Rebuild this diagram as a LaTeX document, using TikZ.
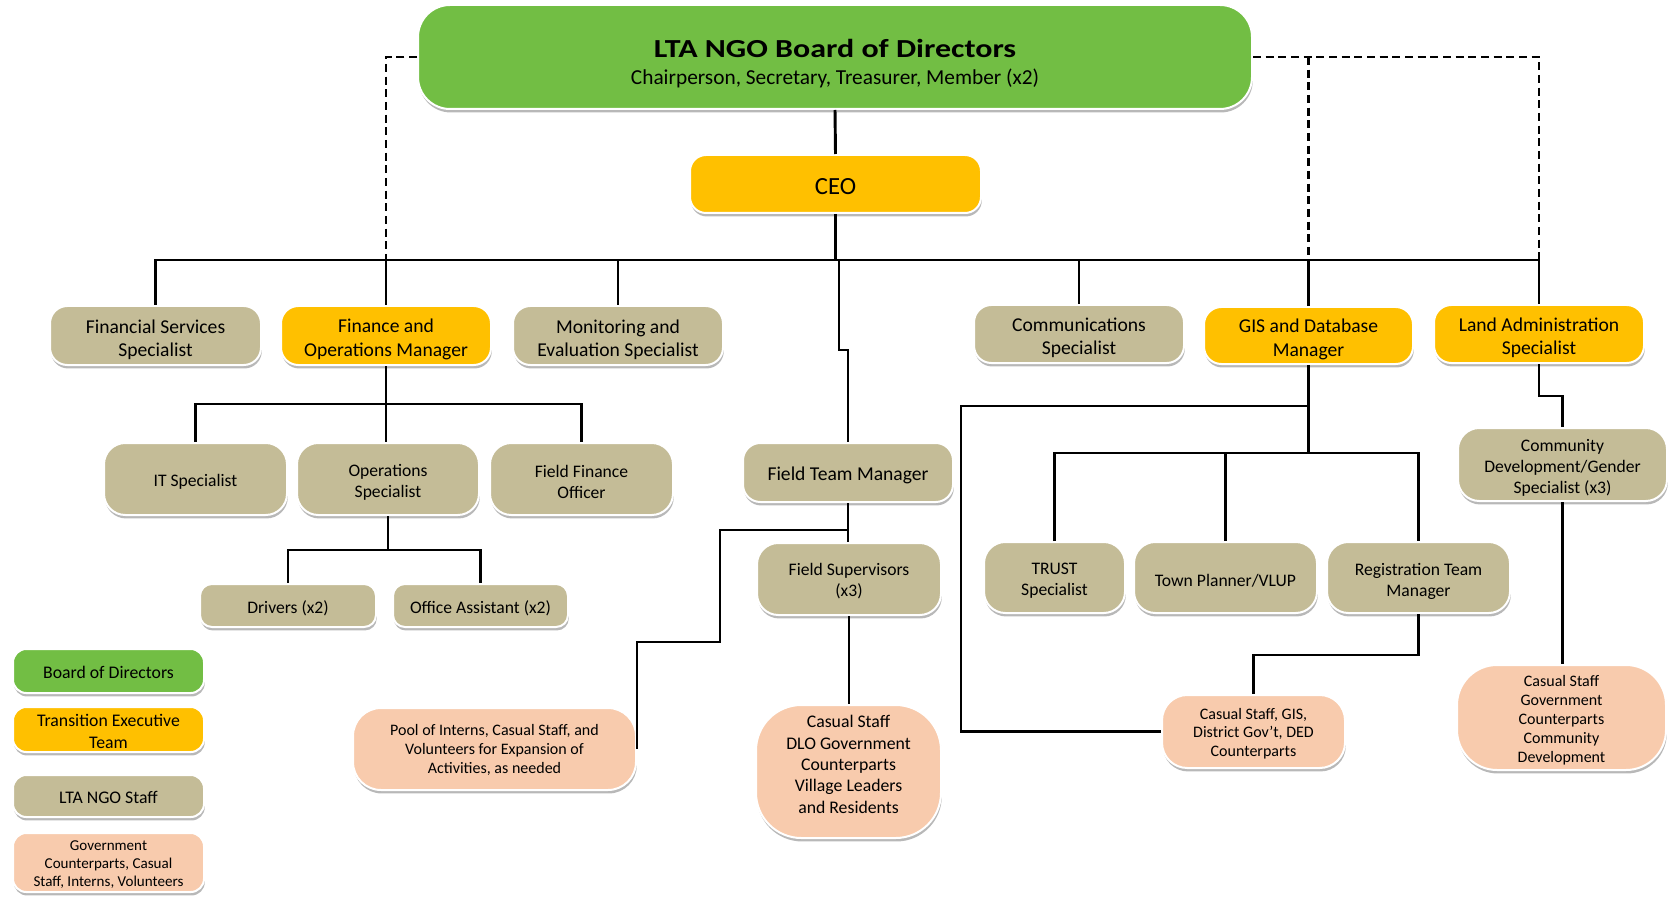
\documentclass[tikz,border=0pt]{standalone}
\usepackage{fontspec}
\setmainfont{Carlito}
\usetikzlibrary{shadows}
\definecolor{cgreen}{RGB}{114,190,68}
\definecolor{cgold}{RGB}{255,192,0}
\definecolor{ctan}{RGB}{196,188,151}
\definecolor{cpeach}{RGB}{248,203,173}
\newcommand\fs[2]{\fontsize{#1}{#2}\selectfont}
% name, x1, y1, x2, y2, shape style, font style, text, text shift (px, down)
\newcommand\bx[9]{%
  \node[#6, minimum width={(#4-#2)*0.75pt}, minimum height={(#5-#3)*0.75pt}] (#1) at ({(#2+#4)/2},{(#3+#5)/2}) {};
  \node[#7, align=center, inner sep=0pt] (#1-t) at ({(#2+#4)/2},{(#3+#5)/2+#9}) {#8};}
\begin{document}
\begin{tikzpicture}[x=0.75pt,y=-0.75pt,
  box/.style={draw=white, line width=1.5pt, inner sep=0pt,
    drop shadow={shadow xshift=0.6pt, shadow yshift=-2.6pt, opacity=0.28, fill=black}},
  grn/.style={box, fill=cgreen},
  gld/.style={box, fill=cgold},
  tan/.style={box, fill=ctan},
  pch/.style={box, fill=cpeach},
  lvA/.style={font=\fs{14.7}{17.5}},
  lvB/.style={font=\fs{13.2}{15.75}},
  conn/.style={line width=2.2pt, black},
  dconn/.style={line width=2pt, black, dash pattern=on 6pt off 3.5pt},
  txt/.style={inner sep=0pt, anchor=base}
]
\useasboundingbox (0,0) rectangle (1669,898);

% Board and CEO
\node[grn, rounded corners=24pt, minimum width={834*0.75pt}, minimum height={104*0.75pt}] (board) at (835,57) {};
\node[txt, font=\fs{19.5}{22}\bfseries] (boardT) at (835,57.3) {\scalebox{1.23}[1]{LTA NGO Board of Directors}};
\node[txt, font=\fs{16}{19}] (boardS) at (835,84.3) {Chairperson, Secretary, Treasurer, Member (x2)};
\bx{ceo}{690}{155}{981}{213}{gld, rounded corners=12pt}{font=\fs{18.5}{22}}{CEO}{3}

% Level 2
\bx{fss}{50}{306}{261}{365}{tan, rounded corners=13pt}{lvA}{Financial Services\\Specialist}{4}
\bx{fom}{281}{306}{491}{365}{gld, rounded corners=13pt}{lvA}{Finance and\\Operations Manager}{4}
\bx{mes}{513}{306}{723}{365}{tan, rounded corners=13pt}{lvA}{Monitoring and\\Evaluation Specialist}{4}
\bx{com}{974}{305}{1184}{363}{tan, rounded corners=13pt}{lvA}{Communications\\Specialist}{4}
\bx{gis}{1204}{307}{1413}{364}{gld, rounded corners=13pt}{lvA}{GIS and Database\\Manager}{4}
\bx{las}{1434}{305}{1644}{363}{gld, rounded corners=13pt}{lvA}{Land Administration\\Specialist}{3.5}

% Finance subtree
\bx{it}{104}{443}{287}{515}{tan, rounded corners=16pt}{lvB}{IT Specialist}{3}
\bx{ops}{297}{443}{479}{515}{tan, rounded corners=16pt}{lvB}{Operations\\Specialist}{3}
\bx{ffo}{490}{443}{673}{515}{tan, rounded corners=16pt}{lvB}{Field Finance\\Officer}{3}
\bx{drv}{200}{584}{376}{627}{tan, rounded corners=9pt}{lvB}{Drivers (x2)}{3}
\bx{off}{393}{584}{568}{627}{tan, rounded corners=9pt}{lvB}{Office Assistant (x2)}{3}

% Field team subtree
\bx{ftm}{743}{443}{953}{502}{tan, rounded corners=13pt}{lvA}{Field Team Manager}{2.5}
\bx{fsup}{757}{543}{941}{615}{tan, rounded corners=16pt}{lvB}{Field Supervisors\\(x3)}{2.5}
\bx{dlo}{756}{705}{941}{838}{pch, rounded corners=34pt}{font=\fs{13.3}{16}}{Casual Staff\\DLO Government\\Counterparts\\Village Leaders\\and Residents}{-7}
\bx{pool}{353}{708}{636}{790}{pch, rounded corners=21pt}{font=\fs{12}{14}}{Pool of Interns, Casual Staff, and\\Volunteers for Expansion of\\Activities, as needed}{1}

% GIS subtree
\bx{trust}{984}{542}{1125}{613}{tan, rounded corners=16pt}{lvB}{TRUST\\Specialist}{3.5}
\bx{town}{1134}{542}{1317}{613}{tan, rounded corners=16pt}{lvB}{Town Planner/VLUP}{3}
\bx{reg}{1327}{542}{1510}{613}{tan, rounded corners=16pt}{lvB}{Registration Team\\Manager}{3.5}
\bx{cgis}{1162}{695}{1345}{768}{pch, rounded corners=19pt}{font=\fs{12}{13.7}}{Casual Staff, GIS,\\District Gov’t, DED\\Counterparts}{2}

% Land admin subtree
\bx{cdg}{1458}{428}{1667}{501}{tan, rounded corners=16pt}{lvB}{Community\\Development/Gender\\Specialist (x3)}{3}
\bx{ccom}{1457}{665}{1666}{770}{pch, rounded corners=30pt}{font=\fs{12}{14.3}}{Casual Staff\\Government\\Counterparts\\Community\\Development}{3}

% Legend
\bx{lg1}{13}{649}{204}{693}{grn, rounded corners=10pt}{font=\fs{13.3}{17}}{Board of Directors}{1}
\bx{lg2}{13}{707}{204}{752}{gld, rounded corners=10pt}{font=\fs{13.3}{17}}{Transition Executive\\Team}{2}
\bx{lg3}{13}{775}{204}{817}{tan, rounded corners=10pt}{font=\fs{13.3}{17}}{LTA NGO Staff}{1}
\bx{lg4}{13}{833}{204}{892}{pch, rounded corners=10pt}{font=\fs{11.3}{13.5}}{Government\\Counterparts, Casual\\Staff, Interns, Volunteers}{2.5}

% Connectors
\coordinate (busL) at (156,260);
\coordinate (ftmA) at (839,260);
\draw[conn] (board.south) -- (ceo.north);
\draw[conn] (ceo.south) -- (ceo.south |- busL);
\draw[conn] (fss.north) |- (las.north |- busL) -- (las.north);
\foreach \n in {fom,mes,com,gis} \draw[conn] (\n.north) -- (\n.north |- busL);
\draw[conn] (ftmA) -- (839,350) -| (ftm.north);

\draw[dconn] (board.west) -| (fom.north |- busL);
\draw[dconn] (board.east) -| (las.north |- busL);
\draw[dconn] (gis.north |- board.east) -- (gis.north |- busL);

\draw[conn] (fom.south) -- (fom.south |- ops.north);
\draw[conn] (it.north) |- (ffo.north |- 0,404) -- (ffo.north);
\draw[conn] (ops.south) -- (ops.south |- 0,550);
\draw[conn] (drv.north) |- (off.north |- 0,550) -- (off.north);

\draw[conn] (ftm.south) -- (ftm.south |- fsup.north);
\draw[conn] (ftm.south |- 0,530) -- (720,530) -- (720,642) -| (pool.east);
\draw[conn] (fsup.south) -- (fsup.south |- dlo.north);

\draw[conn] (gis.south) -- (gis.south |- 0,453);
\draw[conn] (trust.north) |- (reg.north |- 0,453) -- (reg.north);
\draw[conn] (town.north) -- (town.north |- 0,453);
\draw[conn] (gis.south |- 0,406) -| (cgis.west -| 961,0) -- (cgis.west);
\draw[conn] (reg.south) -- ++(0,41) -| (cgis.north);

\draw[conn] (las.south) -- ++(0,32) -| (cdg.north);
\draw[conn] (cdg.south) -- (cdg.south |- ccom.north);
\end{tikzpicture}
\end{document}
